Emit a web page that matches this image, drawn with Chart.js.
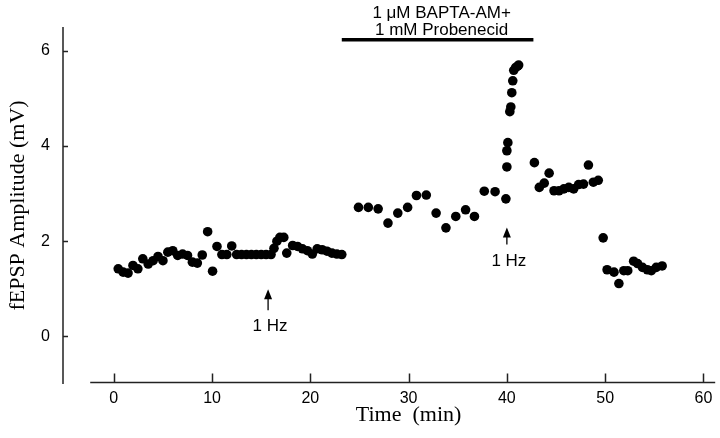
<!DOCTYPE html>
<html>
<head>
<meta charset="utf-8">
<script src="https://cdn.jsdelivr.net/npm/chart.js@4.4.1/dist/chart.umd.min.js"></script>
<style>
  body { margin: 0; background: #fff; }
</style>
</head>
<body>
<canvas id="fepspChart" width="720" height="438"></canvas>
<script>
// data (time in min, fEPSP amplitude in mV)
const timeMin = [
    0.45, 0.95, 1.45, 1.95, 2.45, 2.95, 3.5, 4.0, 4.5, 5.0,
    5.5, 6.0, 6.5, 7.0, 7.5, 8.0, 8.5, 9.0, 9.55, 10.05,
    10.5, 11.0, 11.5, 12.0, 12.5, 13.0, 13.5, 14.0, 14.5, 15.0,
    15.5, 16.0, 16.3, 16.6, 16.9, 17.3, 17.6, 18.2, 18.7, 19.2,
    19.7, 20.2, 20.7, 21.2, 21.7, 22.2, 22.7, 23.2,
    24.9, 25.9, 26.9, 27.9, 28.9, 29.9, 30.8, 31.8, 32.8, 33.8,
    34.8, 35.8, 36.7, 37.7, 38.8, 39.9, 40.0, 40.0, 40.1, 40.3,
    40.4, 40.5, 40.6, 40.7, 40.9, 41.1, 41.2,
    42.8, 43.3, 43.8, 44.3, 44.8, 45.3, 45.8, 46.3, 46.8, 47.3,
    47.8, 48.3, 48.8, 49.3,
    49.8, 50.2, 50.9, 51.4, 51.9, 52.3, 52.9, 53.3, 53.8, 54.3,
    54.7, 55.2, 55.8
];
const amplitude = [
    1.42, 1.35, 1.33, 1.49, 1.42, 1.63, 1.52, 1.59, 1.68, 1.59,
    1.77, 1.80, 1.70, 1.73, 1.70, 1.56, 1.54, 1.71, 2.20, 1.37,
    1.89, 1.72, 1.72, 1.90, 1.72, 1.72, 1.72, 1.72, 1.72, 1.72,
    1.72, 1.72, 1.85, 2.00, 2.08, 2.08, 1.75, 1.91, 1.89, 1.84,
    1.80, 1.73, 1.84, 1.82, 1.79, 1.75, 1.73, 1.72,
    2.71, 2.71, 2.68, 2.38, 2.59, 2.71, 2.96, 2.97, 2.59, 2.28,
    2.52, 2.66, 2.52, 3.05, 3.04, 2.89, 3.56, 3.90, 4.07, 4.72,
    4.82, 5.12, 5.37, 5.59, 5.65, 5.68, 5.70,
    3.65, 3.13, 3.22, 3.43, 3.06, 3.06, 3.10, 3.13, 3.10, 3.19,
    3.20, 3.60, 3.24, 3.28,
    2.07, 1.40, 1.35, 1.11, 1.38, 1.38, 1.58, 1.53, 1.45, 1.40,
    1.38, 1.45, 1.48
];
const xTicks = [0, 10, 20, 30, 40, 50, 60];
const yTicks = [0, 2, 4, 6];
const xTitle = 'Time  (min)';
const yTitle = 'fEPSP Amplitude (mV)';
const drugText = ['1 \u03bcM BAPTA-AM+', '1 mM Probenecid'];
const drugPeriod = [23.2, 42.7];   // min
const stimTimes = [15.7, 40.0];    // min
const stimText = '1 Hz';

const points = timeMin.map(function(t, i) { return {x: t, y: amplitude[i]}; });

const SANS = '"Liberation Sans", Arial, sans-serif';
const SERIF = '"Liberation Serif", "Times New Roman", serif';

// axes, titles and annotations drawn on top
const decorPlugin = {
    id: 'decor',
    afterDraw(chart) {
        const ctx = chart.ctx;
        const xs = chart.scales.x;
        const ys = chart.scales.y;
        const area = chart.chartArea;
        ctx.save();
        ctx.strokeStyle = '#222';
        ctx.fillStyle = '#000';
        ctx.lineWidth = 1.5;

        // y axis line + inward ticks
        ctx.beginPath();
        ctx.moveTo(area.left, area.top);
        ctx.lineTo(area.left, area.bottom);
        yTicks.forEach(function(v) {
            const py = Math.round(ys.getPixelForValue(v)) + 0.5;
            ctx.moveTo(area.left, py);
            ctx.lineTo(area.left + 5, py);
        });
        ctx.stroke();

        // x axis line (detached from y axis) + upward ticks
        const yx = area.bottom - 1.5;
        ctx.beginPath();
        ctx.moveTo(xs.getPixelForValue(-2.4), yx);
        ctx.lineTo(area.right, yx);
        xTicks.forEach(function(v) {
            const px = Math.round(xs.getPixelForValue(v)) + 0.5;
            ctx.moveTo(px, yx);
            ctx.lineTo(px, yx - 9);
        });
        ctx.stroke();

        // axis titles
        ctx.font = '22px ' + SERIF;
        ctx.textAlign = 'center';
        ctx.textBaseline = 'middle';
        ctx.fillText(xTitle, xs.getPixelForValue(30), 415);
        ctx.save();
        ctx.translate(18, (area.top + area.bottom) / 2);
        ctx.rotate(-Math.PI / 2);
        ctx.fillText(yTitle, 0, 0);
        ctx.restore();

        // drug application bar
        const barY = ys.getPixelForValue(6.23);
        const x0 = xs.getPixelForValue(drugPeriod[0]);
        const x1 = xs.getPixelForValue(drugPeriod[1]);
        ctx.lineWidth = 3.5;
        ctx.strokeStyle = '#000';
        ctx.beginPath();
        ctx.moveTo(x0, barY);
        ctx.lineTo(x1, barY);
        ctx.stroke();
        ctx.font = '17px ' + SANS;
        ctx.fillText(drugText[0], (x0 + x1) / 2 + 4, 13);
        ctx.fillText(drugText[1], (x0 + x1) / 2 + 4, 30);

        // stimulation arrows
        const arrows = [
            {t: stimTimes[0], tip: 0.99, tail: 0.55, label: 0.21},
            {t: stimTimes[1], tip: 2.29, tail: 1.93, label: 1.58}
        ];
        ctx.lineWidth = 1.3;
        arrows.forEach(function(a) {
            const px = xs.getPixelForValue(a.t);
            const tipY = ys.getPixelForValue(a.tip);
            const tailY = ys.getPixelForValue(a.tail);
            ctx.beginPath();
            ctx.moveTo(px, tipY + 6);
            ctx.lineTo(px, tailY);
            ctx.stroke();
            ctx.beginPath();
            ctx.moveTo(px, tipY);
            ctx.lineTo(px - 4, tipY + 10);
            ctx.lineTo(px + 4, tipY + 10);
            ctx.closePath();
            ctx.fill();
            ctx.fillText(stimText, px + 2, ys.getPixelForValue(a.label));
        });
        ctx.restore();
    }
};

new Chart(document.getElementById('fepspChart'), {
    type: 'scatter',
    data: {
        datasets: [{
            data: points,
            backgroundColor: '#000',
            borderWidth: 0,
            pointRadius: 4.8,
            pointHoverRadius: 4.8
        }]
    },
    options: {
        responsive: false,
        animation: false,
        events: [],
        layout: { padding: { top: 27, right: 2, left: 0, bottom: 0 } },
        plugins: { legend: { display: false }, tooltip: { enabled: false } },
        scales: {
            x: {
                type: 'linear',
                min: -5.17,
                max: 61.2,
                grid: { display: false, drawTicks: false },
                border: { display: false },
                afterBuildTicks: function(s) { s.ticks = xTicks.map(function(v) { return {value: v}; }); },
                afterFit: function(s) { s.height = 54; },
                ticks: { color: '#000', font: { family: SANS, size: 16 }, padding: 5, maxRotation: 0 }
            },
            y: {
                min: -1.0,
                max: 6.5,
                grid: { display: false, drawTicks: false },
                border: { display: false },
                afterBuildTicks: function(s) { s.ticks = yTicks.map(function(v) { return {value: v}; }); },
                afterFit: function(s) { s.width = 63; },
                ticks: { color: '#000', font: { family: SANS, size: 16 }, padding: 13 }
            }
        }
    },
    plugins: [decorPlugin]
});
</script>
</body>
</html>
